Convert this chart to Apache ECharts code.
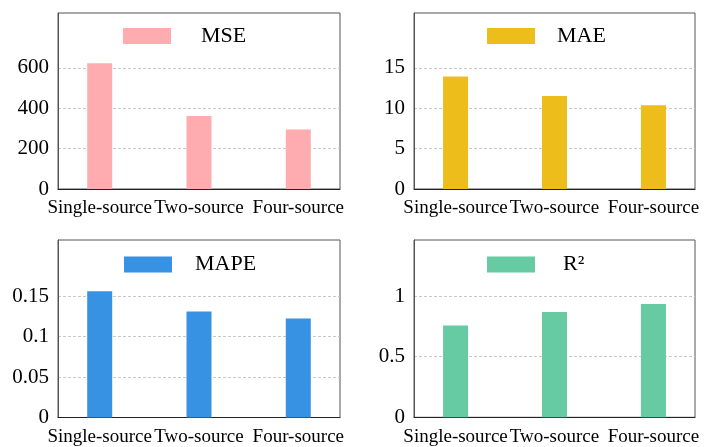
<!DOCTYPE html>
<html><head><meta charset="utf-8">
<script src="https://cdn.jsdelivr.net/npm/echarts@6/dist/echarts.min.js"></script>
<style>html,body{margin:0;padding:0;background:#fff}#c{width:713px;height:447px}</style>
</head><body><div id="c"></div>
<script>
const categories = ['Single-source', 'Two-source', 'Four-source'];
const categoryPositions = [1, 2, 3];
const mseValues = [622, 361, 295];
const maeValues = [13.95, 11.52, 10.37];
const mapeValues = [0.156, 0.131, 0.1224];
const r2Values = [0.758, 0.868, 0.934];
const mseTicks = [0, 200, 400, 600];
const maeTicks = [0, 5, 10, 15];
const mapeTicks = [0, 0.05, 0.1, 0.15];
const r2Ticks = [0, 0.5, 1];
const seriesNames = ['MSE', 'MAE', 'MAPE', 'R²'];

const FONT = 'Liberation Serif';
const panels = [
  {name: seriesNames[0], values: mseValues, ticks: mseTicks, max: 871, color: '#FFACB1',
   grid: {left: 58, top: 13, width: 282, height: 176}, legend: {left: 123, top: 25}, pad: 25},
  {name: seriesNames[1], values: maeValues, ticks: maeTicks, max: 21.8, color: '#ECBD1B',
   grid: {left: 414, top: 13, width: 281, height: 176}, legend: {left: 487, top: 25}, pad: 17},
  {name: seriesNames[2], values: mapeValues, ticks: mapeTicks, max: 0.2193, color: '#3792E3',
   grid: {left: 58, top: 240, width: 282, height: 177.5}, legend: {left: 124, top: 253.5}, pad: 18},
  {name: seriesNames[3], values: r2Values, ticks: r2Ticks, max: 1.462, color: '#66CBA3',
   grid: {left: 414, top: 240, width: 281, height: 177.3}, legend: {left: 487, top: 253.5}, pad: 23}
];

const option = {
  animation: false,
  backgroundColor: '#fff',
  grid: panels.map(p => Object.assign({show: true, borderColor: '#555', borderWidth: 1, backgroundColor: 'transparent'}, p.grid)),
  legend: panels.map(p => ({
    data: [p.name], left: p.legend.left, top: p.legend.top,
    itemWidth: 48, itemHeight: 16, icon: 'rect', padding: 0,
    textStyle: {fontFamily: FONT, fontSize: 22, color: '#000', padding: [3, 0, 0, p.pad]}
  })),
  xAxis: panels.map((p, i) => ({
    type: 'value', gridIndex: i, min: 0.58, max: 3.42,
    axisLine: {show: true, onZero: false, lineStyle: {color: '#222', width: 1}},
    axisTick: {show: false, customValues: categoryPositions},
    splitLine: {show: false},
    axisLabel: {customValues: categoryPositions, hideOverlap: false, margin: 10, fontFamily: FONT, fontSize: 19, color: '#000',
      formatter: v => categories[categoryPositions.indexOf(Math.round(v))] || ''}
  })),
  yAxis: panels.map((p, i) => ({
    type: 'value', gridIndex: i, min: 0, max: p.max,
    axisLine: {show: true, lineStyle: {color: '#555'}},
    axisTick: {show: false, customValues: p.ticks},
    splitLine: {show: true, customValues: p.ticks, lineStyle: {color: '#c8c8c8', type: [3, 2], width: 1}},
    axisLabel: {customValues: p.ticks, margin: 9, fontFamily: FONT, fontSize: 21, color: '#000', padding: [4, 0, 0, 0]}
  })),
  series: panels.map((p, i) => ({
    name: p.name, type: 'bar', xAxisIndex: i, yAxisIndex: i, barWidth: 25,
    itemStyle: {color: p.color},
    data: p.values.map((v, k) => [categoryPositions[k], v])
  }))
};
const chart = echarts.init(document.getElementById('c'), null, {renderer: 'canvas'});
chart.setOption(option);
</script></body></html>
